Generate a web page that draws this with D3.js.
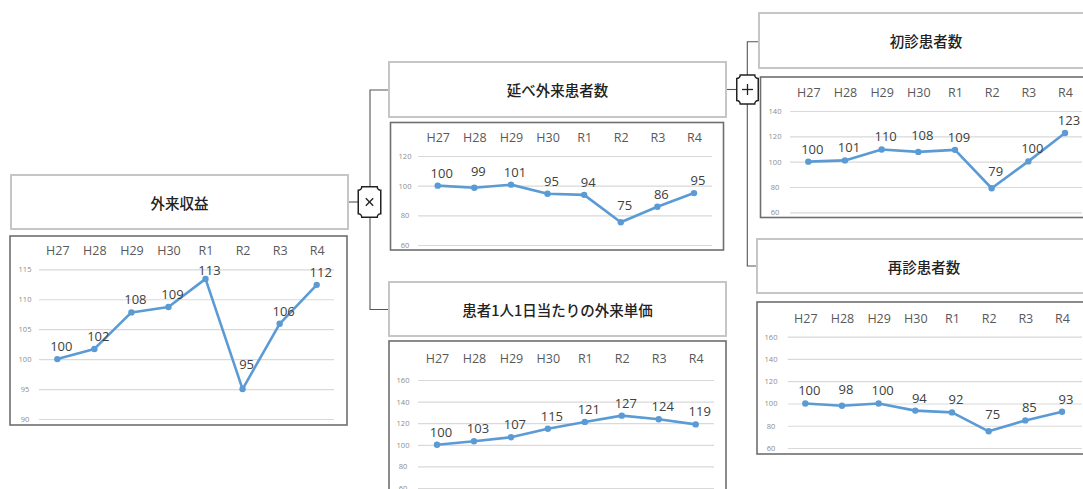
<!DOCTYPE html>
<html>
<head>
<meta charset="utf-8">
<script src="https://cdn.jsdelivr.net/npm/d3@7"></script>
<style>
	html, body { margin: 0; padding: 0; background: #fff; }
	svg { display: block; }
	.title { font-family: "Noto Sans CJK JP", sans-serif; font-weight: 500; font-size: 14.5px; fill: #222; }
	.cat text { font-family: "Open Sans", "Noto Sans", sans-serif; font-size: 12.5px; fill: #595959; }
	.grid text { font-family: "Open Sans", "Noto Sans", sans-serif; font-size: 7.5px; fill: #8c8c8c; }
	.grid line { stroke: #d9d9d9; stroke-width: 1.2; }
	.lbl { font-family: "Open Sans", "Noto Sans", sans-serif; font-size: 13px; fill: #404040; }
</style>
</head>
<body>
<svg id="chart" width="1083" height="489"></svg>
<script>
"use strict";

// fiscal years (index, H27 = 100)
const years = ['H27', 'H28', 'H29', 'H30', 'R1', 'R2', 'R3', 'R4'];

const revenue = [100, 101.7, 107.8, 108.7, 113.4, 95.0, 105.9, 112.4];      // 外来収益
const total_patients = [100, 98.6, 100.7, 94.6, 93.8, 75.3, 85.8, 95.0];    // 延べ外来患者数
const unit_price = [100, 103.3, 107.0, 114.8, 121.2, 127.0, 123.6, 118.9]; // 患者1人1日当たりの外来単価
const new_patients = [100, 101.0, 109.6, 107.7, 109.3, 79.0, 100.2, 122.6]; // 初診患者数
const repeat_patients = [100, 97.9, 100, 93.6, 92.0, 75.0, 84.8, 92.6];   // 再診患者数

const ticks_revenue = [90, 95, 100, 105, 110, 115];
const ticks_total = [60, 80, 100, 120];
const ticks_price = [60, 80, 100, 120, 140, 160];
const ticks_new = [60, 80, 100, 120, 140];
const ticks_repeat = [60, 80, 100, 120, 140, 160];

// layout of each panel (title box, chart frame, plot area)
const panels = [
	{ title: '外来収益', values: revenue, ticks: ticks_revenue,
		tb: [11, 175, 337, 54], cb: [10, 236, 337, 189],
		xr: [57.3, 316.7], gx: [39, 334], yr: [419, 269.3], cat_y: 251, tick_x: 25 },
	{ title: '延べ外来患者数', values: total_patients, ticks: ticks_total,
		tb: [389, 62, 337, 55], cb: [390.5, 122.5, 333, 127.5],
		xr: [437.7, 694], gx: [418, 712], yr: [245, 156], cat_y: 138, tick_x: 405 },
	{ title: '患者1人1日当たりの外来単価', values: unit_price, ticks: ticks_price,
		tb: [389, 282, 337, 54], cb: [389, 341, 337, 170],
		xr: [437, 695.7], gx: [418, 714], yr: [488, 380], cat_y: 359, tick_x: 403 },
	{ title: '初診患者数', values: new_patients, ticks: ticks_new,
		tb: [759, 13, 340, 55], cb: [760.5, 77, 340, 140.5],
		xr: [808.3, 1065], gx: [790, 1082], yr: [212.3, 111], cat_y: 93, tick_x: 775 },
	{ title: '再診患者数', values: repeat_patients, ticks: ticks_repeat,
		tb: [757, 239, 340, 54], cb: [757, 302, 340, 152],
		xr: [805.3, 1062], gx: [787.7, 1082], yr: [448, 336.7], cat_y: 319, tick_x: 771 },
];

const svg = d3.select('#chart');
const fmt = d3.format('.0f');

// connector lines
const conn = svg.append('g')
	.attr('fill', 'none')
	.attr('stroke', '#555')
	.attr('stroke-width', 1.1);
const line_segs = [
	[[348, 202], [359, 202]],
	[[389, 90], [370, 90], [370, 309.5], [389, 309.5]],
	[[726, 89.5], [737, 89.5]],
	[[759, 41.7], [747.3, 41.7], [747.3, 266], [757, 266]],
];
line_segs.forEach((pts) => conn.append('path').attr('d', d3.line()(pts)));

// operator badges (× and +)
const badge = (cx, cy, w, h, op) => {
	const r = 3.5, x0 = cx - w / 2, x1 = cx + w / 2, y0 = cy - h / 2, y1 = cy + h / 2;
	const d = `M${x0 + r},${y0} L${x1 - r},${y0} A${r},${r} 0 0 0 ${x1},${y0 + r}` +
		` L${x1},${y1 - r} A${r},${r} 0 0 0 ${x1 - r},${y1}` +
		` L${x0 + r},${y1} A${r},${r} 0 0 0 ${x0},${y1 - r}` +
		` L${x0},${y0 + r} A${r},${r} 0 0 0 ${x0 + r},${y0} Z`;
	const g = svg.append('g');
	g.append('path').attr('d', d).attr('fill', '#fff').attr('stroke', '#222').attr('stroke-width', 1.5);
	const s = 4.5;
	const segs = op == 'x'
		? [[[cx - s + 0.8, cy - s + 0.8], [cx + s - 0.8, cy + s - 0.8]], [[cx - s + 0.8, cy + s - 0.8], [cx + s - 0.8, cy - s + 0.8]]]
		: [[[cx - s - 1, cy], [cx + s + 1, cy]], [[cx, cy - s - 1], [cx, cy + s + 1]]];
	segs.forEach((p) => g.append('path').attr('d', d3.line()(p)).attr('stroke', '#222').attr('stroke-width', 1.3));
};
badge(369.5, 202, 22.5, 30.5, 'x');
badge(747.5, 89.5, 21.5, 29, '+');

panels.forEach((p) => {
	const g = svg.append('g');

	// title box
	g.append('rect')
		.attr('x', p.tb[0]).attr('y', p.tb[1]).attr('width', p.tb[2]).attr('height', p.tb[3])
		.attr('fill', '#fff').attr('stroke', '#c6c6c6').attr('stroke-width', 2);
	g.append('text').attr('class', 'title')
		.attr('x', p.tb[0] + p.tb[2] / 2 - (p.tb[0] > 700 ? 3 : 0))
		.attr('y', p.tb[1] + p.tb[3] / 2)
		.attr('text-anchor', 'middle')
		.attr('dominant-baseline', 'central')
		.text(p.title);

	// chart frame
	g.append('rect')
		.attr('x', p.cb[0]).attr('y', p.cb[1]).attr('width', p.cb[2]).attr('height', p.cb[3])
		.attr('fill', '#fff').attr('stroke', '#6e6e6e').attr('stroke-width', 1.6);

	const x = d3.scalePoint().domain(years).range(p.xr);
	const y = d3.scaleLinear().domain([p.ticks[0], p.ticks[p.ticks.length - 1]]).range(p.yr);

	// gridlines + value ticks
	const grid = g.append('g').attr('class', 'grid')
		.attr('transform', `translate(${p.gx[0]},0)`)
		.call(d3.axisLeft(y).tickValues(p.ticks).tickSize(-(p.gx[1] - p.gx[0])).tickFormat(fmt));
	grid.select('.domain').remove();
	grid.selectAll('text')
		.attr('x', p.tick_x - p.gx[0])
		.attr('dy', '0.32em')
		.attr('text-anchor', 'middle');

	// category labels on top
	const cat = g.append('g').attr('class', 'cat')
		.attr('transform', `translate(0,${p.cat_y})`)
		.call(d3.axisTop(x).tickSize(0).tickPadding(0));
	cat.select('.domain').remove();
	cat.selectAll('text').attr('dy', '0.35em');

	// series
	const pts = p.values.map((v, i) => [x(years[i]), y(v)]);
	g.append('path')
		.attr('d', d3.line()(pts))
		.attr('fill', 'none')
		.attr('stroke', '#5b9bd5')
		.attr('stroke-width', 2.6)
		.attr('stroke-linejoin', 'round');
	g.selectAll('circle.pt')
		.data(p.values)
		.enter()
		.append('circle')
		.attr('class', 'pt')
		.attr('cx', (d, i) => x(years[i]))
		.attr('cy', (d) => y(d))
		.attr('r', 3.2)
		.attr('fill', '#5b9bd5');

	// data labels: above the point, lifted more at valleys, kept below the year row
	const label_y = (i) => {
		const py = pts[i][1];
		const prev = i > 0 ? pts[i - 1][1] : null;
		const next = i < pts.length - 1 ? pts[i + 1][1] : null;
		let off = 8;
		if(prev !== null && next !== null && py > prev && py > next) {
			off = Math.max(12, Math.min(py - prev, py - next) * 0.3);
		}
		return Math.max(py - off, p.cat_y + 24);
	};
	g.selectAll('text.lbl')
		.data(p.values)
		.enter()
		.append('text')
		.attr('class', 'lbl')
		.attr('x', (d, i) => x(years[i]) + 4)
		.attr('y', (d, i) => label_y(i))
		.attr('text-anchor', 'middle')
		.text((d) => fmt(d));
});
</script>
</body>
</html>
